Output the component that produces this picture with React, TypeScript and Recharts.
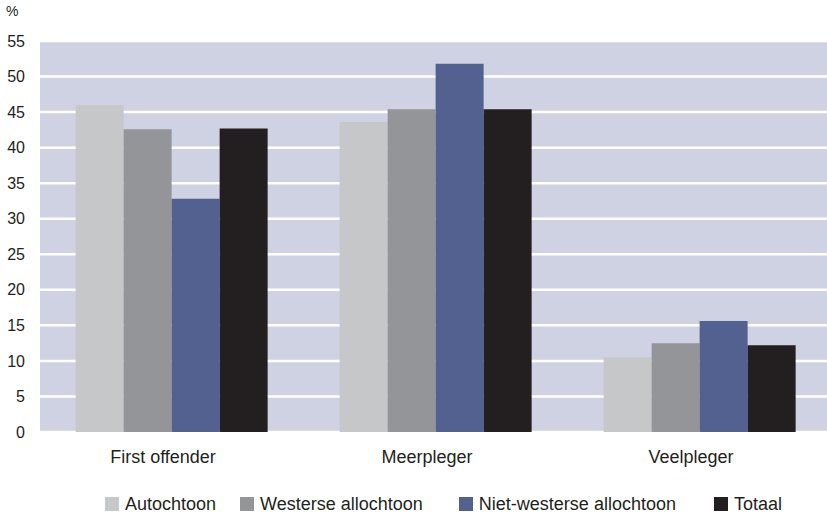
import { BarChart, Bar, XAxis, YAxis, CartesianGrid, Legend } from 'recharts'

const categories = ['First offender', 'Meerpleger', 'Veelpleger']
const autochtoon = [46.0, 43.6, 10.5]
const westerseAllochtoon = [42.6, 45.4, 12.5]
const nietWesterseAllochtoon = [32.8, 51.8, 15.6]
const totaal = [42.7, 45.4, 12.2]
const yTicks = [0, 5, 10, 15, 20, 25, 30, 35, 40, 45, 50, 55]

const series = [
  { key: 'autochtoon', name: 'Autochtoon', color: '#c6c7c9', values: autochtoon },
  { key: 'westers', name: 'Westerse allochtoon', color: '#949599', values: westerseAllochtoon },
  { key: 'nietWesters', name: 'Niet-westerse allochtoon', color: '#52618f', values: nietWesterseAllochtoon },
  { key: 'totaal', name: 'Totaal', color: '#231f20', values: totaal },
]

// spacing after each legend entry (the original is not evenly spaced)
const legendGaps = [24, 36, 38, 0]

const data = categories.map((name, i) => {
  const row: { [key: string]: string | number } = { name }
  series.forEach(s => { row[s.key] = s.values[i] })
  return row
})

const FONT = '"Liberation Sans", Arial, sans-serif'
const TEXT = '#231f20'

function LegendContent() {
  return (
    <div style={{ display: 'flex', justifyContent: 'center', alignItems: 'center', height: 22, paddingLeft: 55, fontFamily: FONT, fontSize: 18, color: TEXT }}>
      {series.map((s, idx) => (
        <div key={s.key} style={{ display: 'flex', alignItems: 'center', marginRight: legendGaps[idx] }}>
          <span style={{ width: 14, height: 14, background: s.color, marginRight: 6, display: 'inline-block' }} />
          <span>{s.name}</span>
        </div>
      ))}
    </div>
  )
}

export default function App() {
  return (
    <div style={{ position: 'absolute', left: 0, top: 0, width: 827, height: 515, overflow: 'hidden', background: '#fff' }}>
      <div style={{ position: 'absolute', left: 6, top: 3, fontFamily: FONT, fontSize: 14, color: TEXT }}>%</div>
      <BarChart
        width={832}
        height={515}
        data={data}
        margin={{ top: 41, right: 0, left: 0, bottom: 0 }}
        barCategoryGap="13.5%"
        barGap={0}
      >
        <CartesianGrid vertical={false} stroke="#ffffff" strokeWidth={2.5} fill="#cfd2e3" fillOpacity={1} />
        <XAxis
          dataKey="name"
          axisLine={false}
          tickLine={false}
          tickSize={0}
          tickMargin={18}
          height={61}
          tick={{ fill: TEXT, fontSize: 18, fontFamily: FONT, dx: -9 }}
        />
        <YAxis
          domain={[0, 55]}
          ticks={yTicks}
          interval={0}
          width={40}
          axisLine={false}
          tickLine={false}
          tickSize={0}
          tickMargin={15}
          tick={{ fill: TEXT, fontSize: 16, fontFamily: FONT }}
        />
        <Legend verticalAlign="bottom" align="center" content={<LegendContent />} />
        {series.map(s => (
          <Bar key={s.key} dataKey={s.key} name={s.name} fill={s.color} isAnimationActive={false} />
        ))}
      </BarChart>
    </div>
  )
}
